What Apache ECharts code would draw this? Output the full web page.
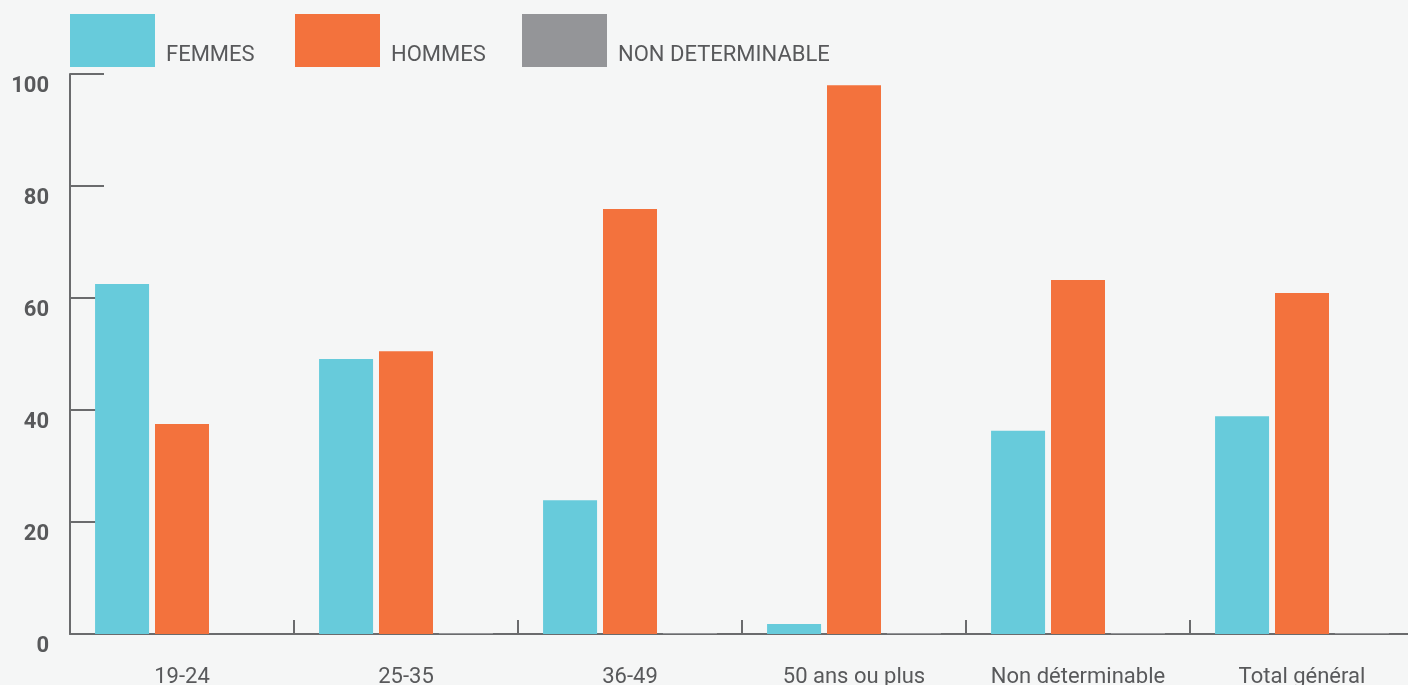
<!DOCTYPE html>
<html>
<head>
<meta charset="utf-8">
<script src="https://cdn.jsdelivr.net/npm/echarts@6/dist/echarts.min.js"></script>
<style>
  html, body { margin: 0; padding: 0; background: #f5f6f6; }
  #chart { width: 1408px; height: 685px; }
</style>
</head>
<body>
<div id="chart"></div>
<script>
const categories = ['19-24', '25-35', '36-49', '50 ans ou plus', 'Non déterminable', 'Total général'];
const femmes = [62.5, 49.1, 23.9, 1.8, 36.3, 38.9];
const hommes = [37.5, 50.5, 75.9, 98.0, 63.2, 60.9];
const nonDeterminable = [0, 0.2, 0.2, 0.2, 0.2, 0.2];
const seriesNames = ['FEMMES', 'HOMMES', 'NON DETERMINABLE'];
const colors = ['#67cbdb', '#f3723d', '#949598'];
const legendLefts = [70, 295, 522];

const textColor = '#58595b';
const axisColor = '#6a6b6d';
const font = 'Roboto, "DejaVu Sans", sans-serif';

const chart = echarts.init(document.getElementById('chart'));

const legends = seriesNames.map((name, i) => ({
  data: [name],
  left: legendLefts[i],
  top: 14,
  itemWidth: 85,
  itemHeight: 53,
  icon: 'rect',
  selectedMode: false,
  padding: 0,
  formatter: '{a|{name}}',
  textStyle: {
    color: textColor,
    fontSize: 22,
    fontFamily: font,
    rich: {
      a: { color: textColor, fontSize: 22, fontFamily: font, padding: [30, 0, 0, 6] }
    }
  }
}));

const seriesData = [femmes, hommes, nonDeterminable];

chart.setOption({
  backgroundColor: '#f5f6f6',
  animation: false,
  color: colors,
  legend: legends,
  grid: { left: 70, right: -6, top: 74, bottom: 51, containLabel: false, outerBoundsMode: 'none' },
  xAxis: {
    type: 'category',
    data: categories,
    axisLine: { show: true, lineStyle: { color: axisColor, width: 2 } },
    axisTick: { show: true, inside: true, interval: 0, length: 14, lineStyle: { color: axisColor, width: 2 } },
    axisLabel: { color: textColor, fontSize: 22, fontFamily: font, margin: 32, interval: 0 },
    splitLine: { show: false }
  },
  yAxis: {
    type: 'value',
    min: 0,
    max: 100,
    interval: 20,
    axisLine: { show: true, lineStyle: { color: axisColor, width: 2 } },
    axisTick: { show: true, inside: true, length: 34, lineStyle: { color: axisColor, width: 2 } },
    axisLabel: {
      color: textColor, fontSize: 22, fontWeight: 'bold', fontFamily: font,
      margin: 21, verticalAlign: 'top', padding: [1, 0, 0, 0]
    },
    splitLine: { show: false }
  },
  series: seriesNames.map((name, i) => ({
    name: name,
    type: 'bar',
    data: seriesData[i],
    barWidth: 54,
    barGap: '11%',
    itemStyle: { color: colors[i] }
  }))
});
</script>
</body>
</html>
